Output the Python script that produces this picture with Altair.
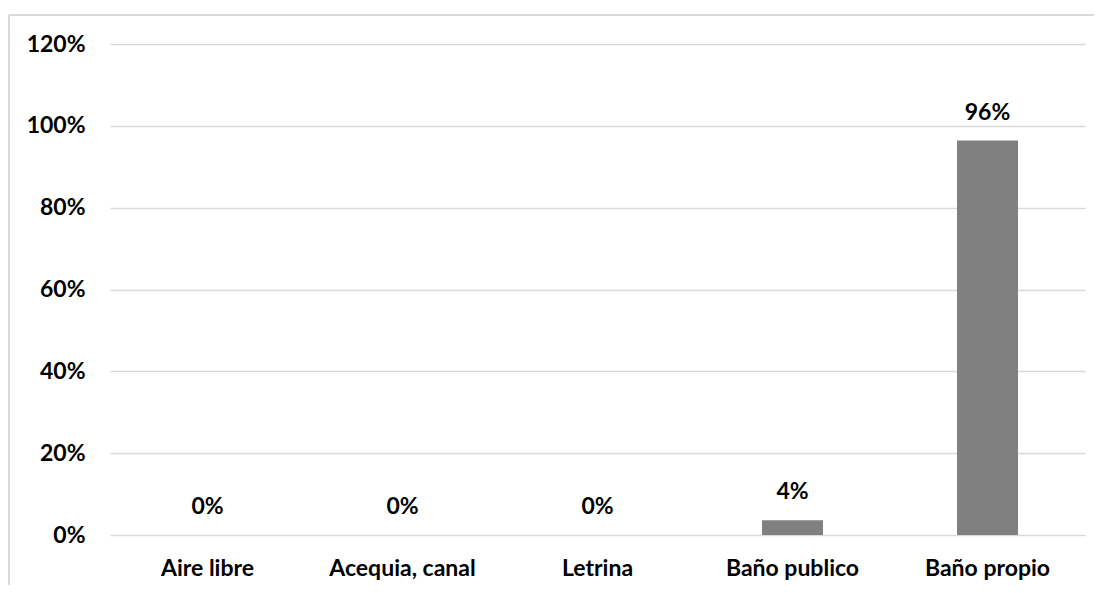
import altair as alt
import pandas as pd

categories = ["Aire libre", "Acequia, canal", "Letrina", "Baño publico", "Baño propio"]
values = [0.0, 0.0, 0.0, 0.036, 0.964]

df = pd.DataFrame({"cat": categories, "val": values})

FONT = "Lato"
FS = 23

x = alt.X("cat:N", sort=categories, title=None,
          axis=alt.Axis(labelAngle=0, labelFontSize=FS, labelFontWeight="bold",
                        labelFont=FONT, labelColor="#000000", labelPadding=22,
                        domain=False, ticks=False))
y = alt.Y("val:Q", title=None,
          scale=alt.Scale(domain=[0, 1.2], nice=False),
          axis=alt.Axis(format=".0%", values=[0, 0.2, 0.4, 0.6, 0.8, 1.0, 1.2],
                        labelFontSize=FS, labelFontWeight="bold", labelFont=FONT,
                        labelColor="#000000", labelPadding=25,
                        domain=False, ticks=False, grid=True,
                        gridColor="#d9d9d9", gridWidth=1.3))

bars = alt.Chart(df).mark_bar(color="#808080", size=61).encode(x=x, y=y)

labels = alt.Chart(df).mark_text(
    fontSize=FS, fontWeight="bold", font=FONT, color="#000000",
    baseline="middle", dy=-28
).encode(x=alt.X("cat:N", sort=categories), y="val:Q",
         text=alt.Text("val:Q", format=".0%"))

frame_top = alt.Chart(df).mark_rule(color="#d9d9d9", strokeWidth=2, clip=False).encode(
    x=alt.value(-101), x2=alt.value(1100), y=alt.value(-29))
frame_left = alt.Chart(df).mark_rule(color="#d9d9d9", strokeWidth=2, clip=False).encode(
    x=alt.value(-101), y=alt.value(-29), y2=alt.value(600))

chart = alt.layer(frame_top, frame_left, bars, labels).properties(
    width=975, height=491,
    autosize=alt.AutoSizeParams(type="none"),
    padding={"left": 102, "top": 36, "right": 9, "bottom": 50},
    background="white"
).configure_view(stroke=None)

chart.save("out.html", embed_options={"renderer": "svg", "actions": False})
